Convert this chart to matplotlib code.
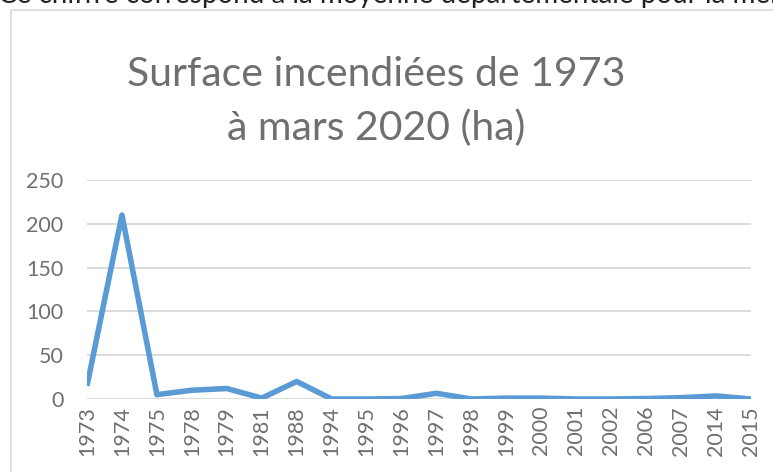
import numpy as np
import matplotlib
matplotlib.use('Agg')
import matplotlib.pyplot as plt
from matplotlib.patches import Rectangle

# Surface incendiée par année (ha)
annees = ['1973', '1974', '1975', '1978', '1979', '1981', '1988', '1994', '1995',
          '1996', '1997', '1998', '1999', '2000', '2001', '2002', '2006', '2007',
          '2014', '2015']
surface = [15, 210, 5, 10, 12, 1, 20, 0, 0, 0.5, 6.5, 0, 1, 1, 0, 0, 0.5, 1.5,
           3.5, 0]
graduations = [0, 50, 100, 150, 200, 250]

gris = '#6f6f6f'
bleu = '#5b9bd5'

plt.rcParams['font.family'] = ['Lato', 'DejaVu Sans']

fig = plt.figure(figsize=(7.73, 4.72), dpi=100)
W, H = 773, 472

# cadre du graphique (coupé à droite et en bas)
fig.patches.append(Rectangle((11 / W, -0.05), 1.0, 1 - 10 / H + 0.05,
                             transform=fig.transFigure, fill=False,
                             edgecolor='#d9d9d9', linewidth=1.2))

# texte du document au-dessus, coupé
fig.text(-2 / W, 1 - 3 / H,
         'Ce chiffre correspond à la moyenne départementale pour la même',
         fontsize=20, color='#222222', va='baseline', ha='left')

ax = fig.add_axes([87 / W, 1 - 399 / H, 664 / W, 219 / H])
x = np.arange(len(annees))
ax.plot(x, surface, color=bleu, linewidth=4, solid_joinstyle='round',
        solid_capstyle='butt', zorder=3)

ax.set_xlim(0, len(annees) - 1)
ax.set_ylim(0, 250)
ax.set_yticks(graduations)
ax.set_xticks(x)
ax.set_xticklabels(annees, rotation=90)
ax.yaxis.grid(True, color='#d9d9d9', linewidth=1.3)
ax.set_axisbelow(True)
for s in ax.spines.values():
    s.set_visible(False)
ax.tick_params(axis='both', length=0, labelsize=15.5, labelcolor=gris)
ax.tick_params(axis='y', pad=17)
ax.tick_params(axis='x', pad=5)

fig.text(376 / W, 1 - 86 / H, 'Surface incendiées de 1973',
         fontsize=29.5, color=gris, ha='center', va='baseline')
fig.text(376 / W, 1 - 140 / H, 'à mars 2020 (ha)',
         fontsize=29.5, color=gris, ha='center', va='baseline')

fig.savefig('out.png', dpi=100)
